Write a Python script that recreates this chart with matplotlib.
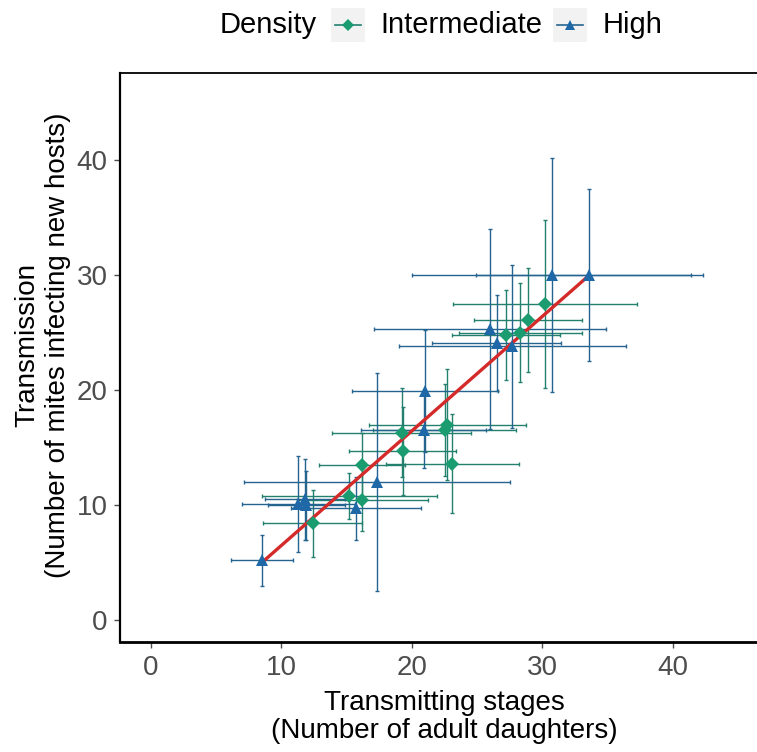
import matplotlib
matplotlib.use("Agg")
import matplotlib.pyplot as plt
from matplotlib.lines import Line2D
from matplotlib.patches import Rectangle

plt.rcParams['font.family'] = ['Liberation Sans', 'DejaVu Sans']

# ---------------- data ----------------
legend_title = "Density"
group_names = ["Intermediate", "High"]

inter_x = [12.4, 15.2, 16.2, 16.2, 19.2, 19.3, 22.5, 22.7, 23.1, 27.2, 28.3, 28.9, 30.2]
inter_y = [8.4, 10.8, 10.4, 13.5, 16.3, 14.7, 16.5, 17.0, 13.6, 24.8, 25.0, 26.1, 27.5]
inter_xerr = [3.8, 6.7, 5.0, 3.3, 5.3, 4.1, 5.5, 6.0, 5.1, 4.15, 4.7, 4.15, 7.05]
inter_yerr = [2.9, 2.0, 2.7, 2.8, 3.9, 3.8, 4.0, 4.8, 4.3, 3.9, 4.3, 4.5, 7.3]

high_x = [8.5, 11.9, 11.8, 11.3, 15.7, 17.3, 20.9, 21.0, 26.0, 26.5, 27.7, 30.7, 33.6]
high_y = [5.2, 10.0, 10.5, 10.1, 9.7, 12.0, 16.5, 19.9, 25.3, 24.1, 23.8, 30.0, 30.0]
high_xerr = [2.4, 2.95, 3.1, 4.3, 5.0, 10.2, 4.8, 5.6, 8.9, 4.95, 8.7, 10.7, 8.7]
high_yerr = [2.2, 3.0, 3.5, 4.2, 2.7, 9.5, 3.3, 5.3, 8.7, 4.2, 7.1, 10.2, 7.5]

fit_x = [8.5, 33.6]
fit_y = [5.0, 30.0]

x_ticks = [0, 10, 20, 30, 40]
y_ticks = [0, 10, 20, 30, 40]
x_title = ["Transmitting stages", "(Number of adult daughters)"]
y_title = ["Transmission", "(Number of mites infecting new hosts)"]

# ---------------- styles ----------------
GREEN = "#1A9B70"
BLUE = "#1F68A8"
GREEN_E = "#23806F"
BLUE_E = "#25648F"
RED = "#D42A2A"
TICK_COL = "#4D4D4D"

W, H = 757, 752
fig = plt.figure(figsize=(W / 100, H / 100), dpi=100)
L, R, T, B = 120, 769, 73, 642
ax = fig.add_axes([L / W, 1 - B / H, (R - L) / W, (B - T) / H])
ax.set_xlim(-2.375, 47.36)
ax.set_ylim(-1.91, 47.57)

ax.errorbar(inter_x, inter_y, xerr=inter_xerr, yerr=inter_yerr, fmt='none',
            ecolor=GREEN_E, elinewidth=1.0, capsize=1.5, capthick=1.0, zorder=2)
ax.errorbar(high_x, high_y, xerr=high_xerr, yerr=high_yerr, fmt='none',
            ecolor=BLUE_E, elinewidth=1.0, capsize=1.5, capthick=1.0, zorder=2)
ax.plot(fit_x, fit_y, color=RED, lw=2.4, zorder=3, solid_capstyle='butt')
ax.plot(inter_x, inter_y, linestyle='none', marker='D', ms=7.5, color=GREEN,
        markeredgewidth=0, zorder=4)
ax.plot(high_x, high_y, linestyle='none', marker='^', ms=9, color=BLUE,
        markeredgewidth=0, zorder=4)

ax.set_xticks(x_ticks)
ax.set_yticks(y_ticks)
ax.tick_params(axis='both', direction='out', length=4, width=1.0, colors=TICK_COL,
               labelsize=20, labelcolor=TICK_COL)
ax.tick_params(axis='x', pad=5.5)
ax.tick_params(axis='y', pad=5)
for s in ax.spines.values():
    s.set_linewidth(1.3)
    s.set_color('black')
ax.spines['bottom'].set_linewidth(2.0)
ax.spines['left'].set_linewidth(1.6)

# axis titles
cx = (L + R) / 2 / W
fig.text(cx, 1 - 703 / H, x_title[0], ha='center', va='center', fontsize=20, color='black')
fig.text(cx, 1 - 731 / H, x_title[1], ha='center', va='center', fontsize=20, color='black')
fig.text(27 / W, 1 - 345 / H, y_title[0], ha='center', va='center', rotation=90,
         fontsize=20, color='black')
fig.text(58 / W, 1 - 345 / H, y_title[1], ha='center', va='center', rotation=90,
         fontsize=20, color='black')

# ---------------- legend (top, horizontal) ----------------
fig.canvas.draw()
renderer = fig.canvas.get_renderer()
leg_y = 25
key = 34
fs = 21
t0 = fig.text(0, 1 - leg_y / H, legend_title, ha='left', va='center', fontsize=fs)
w_title = t0.get_window_extent(renderer).width
labs = []
for name in group_names:
    t = fig.text(0, 1 - leg_y / H, name, ha='left', va='center', fontsize=fs)
    labs.append((t, t.get_window_extent(renderer).width))
gap1, gap2, gap3 = 14, 16, 10
total = w_title + gap1 + sum(key + gap2 + w + gap3 for _, w in labs) - gap3
x0 = 441 - total / 2
t0.set_x(x0 / W)
xc = x0 + w_title + gap1
styles = [(GREEN, GREEN_E, 'D', 7.5), (BLUE, BLUE_E, '^', 9)]
for (t, w), (mc, lc, mk, ms) in zip(labs, styles):
    fig.add_artist(Rectangle((xc / W, 1 - (leg_y + key / 2) / H), key / W, key / H,
                             transform=fig.transFigure, facecolor='#F2F2F2',
                             edgecolor='none'))
    fig.add_artist(Line2D([(xc + 4) / W, (xc + key - 4) / W], [1 - leg_y / H] * 2,
                          transform=fig.transFigure, color=lc, lw=1.2))
    fig.add_artist(Line2D([(xc + key / 2) / W], [1 - leg_y / H], transform=fig.transFigure,
                          marker=mk, ms=ms * 0.8, color=mc, markeredgewidth=0,
                          linestyle='none'))
    t.set_x((xc + key + gap2) / W)
    xc = xc + key + gap2 + w + gap3

fig.savefig("out.png", dpi=100)
